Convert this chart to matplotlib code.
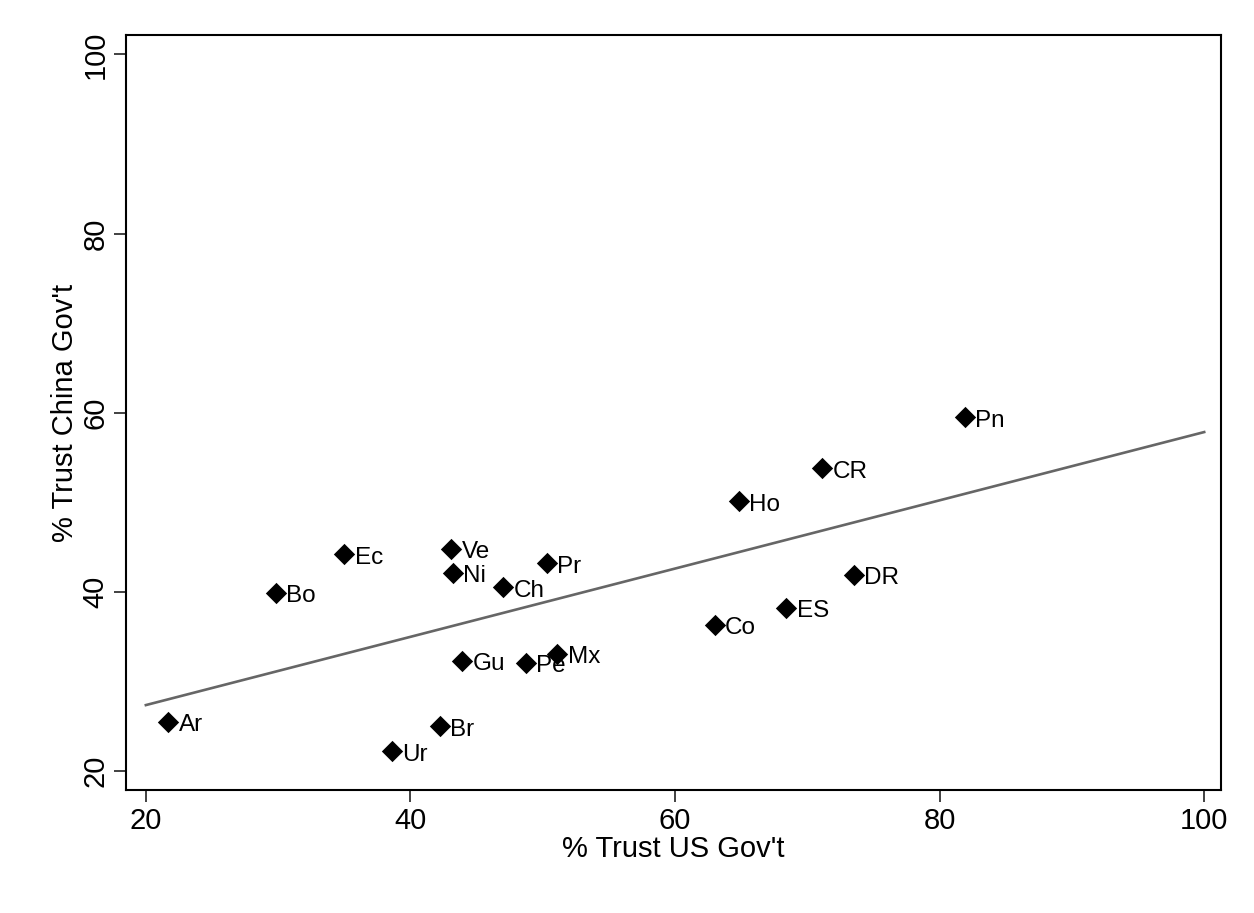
import numpy as np
import matplotlib
matplotlib.use("Agg")
import matplotlib.pyplot as plt

plt.rcParams['font.family'] = ['Liberation Sans', 'DejaVu Sans']

countries = ["Ar", "Ur", "Br", "Bo", "Ec", "Ve", "Ni", "Ch", "Pr", "Gu", "Pe", "Mx",
             "Co", "ES", "DR", "Ho", "CR", "Pn"]
trust_us = [21.7, 38.6, 42.2, 29.8, 35.0, 43.1, 43.2, 47.0, 50.3, 43.9, 48.7, 51.1,
            63.0, 68.4, 73.5, 64.8, 71.1, 81.9]
trust_china = [25.5, 22.2, 25.0, 39.9, 44.2, 44.8, 42.1, 40.5, 43.2, 32.3, 32.1, 33.1,
               36.3, 38.2, 41.9, 50.1, 53.8, 59.5]
ticks = [20, 40, 60, 80, 100]

fig = plt.figure(figsize=(12.54, 9.13), dpi=100)
ax = fig.add_axes([0.1005, 0.1345, 0.8735, 0.8275])

x = np.array(trust_us)
y = np.array(trust_china)
slope, intercept = np.polyfit(x, y, 1)
xl = np.array([20, 100])
ax.plot(xl, intercept + slope * xl, color='#666666', lw=1.9, zorder=2)

ax.scatter(x, y, marker='D', s=118, color='black', zorder=3, linewidths=0)
for c, xi, yi in zip(countries, x, y):
    ax.annotate(c, (xi, yi), xytext=(7.5, -2.5), textcoords='offset points',
                ha='left', va='center', fontsize=17.5, color='black')

ax.set_xlim(18.5, 101.3)
ax.set_ylim(17.85, 102.2)
ax.set_xticks(ticks)
ax.set_yticks(ticks)
ax.set_xticklabels([str(t) for t in ticks], fontsize=21)
ax.set_yticklabels([str(t) for t in ticks], fontsize=21, rotation=90, va='center')
ax.tick_params(axis='both', direction='out', length=8.5, width=1.3, color='#333333', pad=3.5)
for sp in ax.spines.values():
    sp.set_linewidth(1.5)
ax.set_xlabel("% Trust US Gov't", fontsize=21, labelpad=0)
ax.set_ylabel("% Trust China Gov't", fontsize=21, labelpad=1.5)

fig.savefig("out.png", dpi=100)
